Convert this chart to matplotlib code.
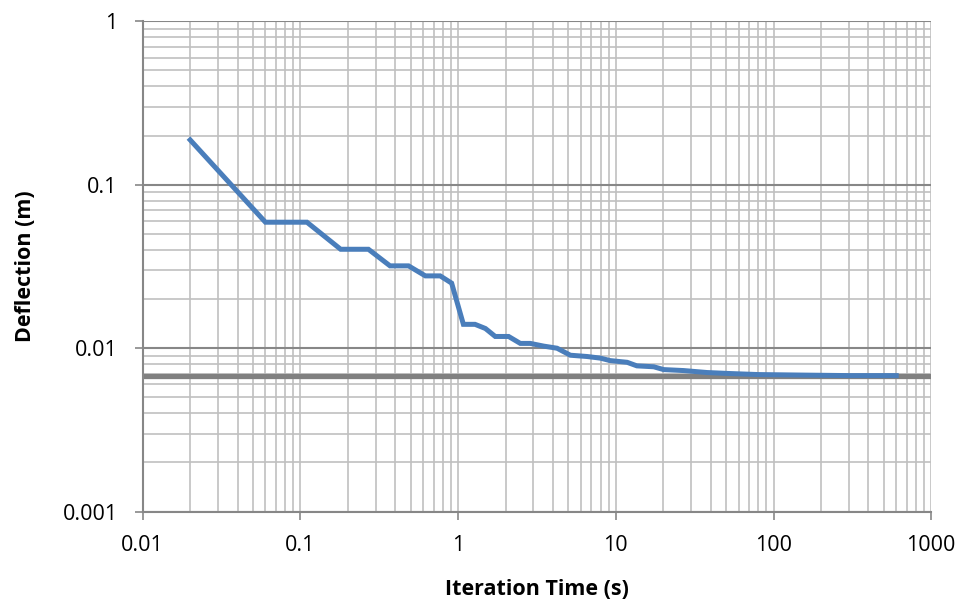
import numpy as np
import matplotlib.pyplot as plt
from matplotlib.ticker import LogLocator, FixedLocator, FuncFormatter

# Data
iter_time = [0.02, 0.06, 0.11, 0.18, 0.27, 0.37, 0.485, 0.62, 0.77, 0.91,
             1.08, 1.28, 1.49, 1.72, 2.09, 2.48, 2.87, 3.49, 4.24, 5.15,
             6.56, 7.97, 9.2, 11.8, 13.6, 17.4, 20.1, 26.9, 37.9, 53,
             80, 150, 300, 600]
deflection = [0.188, 0.059, 0.059, 0.0403, 0.0403, 0.0319, 0.0319, 0.0277, 0.0277, 0.025,
              0.014, 0.014, 0.0132, 0.0118, 0.0118, 0.0107, 0.0107, 0.0103, 0.0100, 0.00906,
              0.0089, 0.0087, 0.0084, 0.0082, 0.0078, 0.0077, 0.0074, 0.0073, 0.0071, 0.0070,
              0.0069, 0.00685, 0.0068, 0.0068]
limit_x = [0.01, 1000]
limit_y = [0.0068, 0.0068]

x_ticks = [0.01, 0.1, 1, 10, 100, 1000]
y_ticks = [0.001, 0.01, 0.1, 1]

plt.rcParams['font.family'] = ['Open Sans', 'DejaVu Sans']

fig = plt.figure(figsize=(9.61, 6.01), dpi=100)
ax = fig.add_axes([0.1485, 0.1486, 0.8205, 0.816])

ax.set_xscale('log')
ax.set_yscale('log')
ax.set_xlim(0.01, 1000)
ax.set_ylim(0.001, 1)

# grid
ax.xaxis.set_major_locator(FixedLocator(x_ticks))
ax.yaxis.set_major_locator(FixedLocator(y_ticks))
ax.xaxis.set_minor_locator(LogLocator(base=10, subs=np.arange(2, 10)))
ax.yaxis.set_minor_locator(LogLocator(base=10, subs=np.arange(2, 10)))
ax.grid(True, which='minor', axis='both', color='#c0c0c0', lw=1.2)
ax.grid(True, which='major', axis='x', color='#c0c0c0', lw=1.2)
ax.grid(True, which='major', axis='y', color='#878787', lw=1.5)
ax.set_axisbelow(True)

ax.plot(limit_x, limit_y, color='#808080', lw=3.8, solid_capstyle='butt')
ax.plot(iter_time, deflection, color='#4a7ebb', lw=3.6, solid_joinstyle='miter')

fmt = FuncFormatter(lambda v, p: ('%g' % v))
ax.xaxis.set_major_formatter(fmt)
ax.yaxis.set_major_formatter(fmt)

for s in ['top', 'right']:
    ax.spines[s].set_visible(False)
for s in ['left', 'bottom']:
    ax.spines[s].set_color('#878787')
    ax.spines[s].set_linewidth(1.5)
ax.tick_params(which='major', length=6, width=1.2, color='#878787',
               labelsize=15.5)
ax.tick_params(axis='x', pad=11)
ax.tick_params(axis='y', pad=12)
ax.tick_params(which='minor', length=0)

ax.set_xlabel('Iteration Time (s)', fontsize=15.5, fontweight='bold', labelpad=16)
ax.set_ylabel('Deflection (m)', fontsize=15.5, fontweight='bold', labelpad=19)

fig.savefig('out.png', dpi=100)
